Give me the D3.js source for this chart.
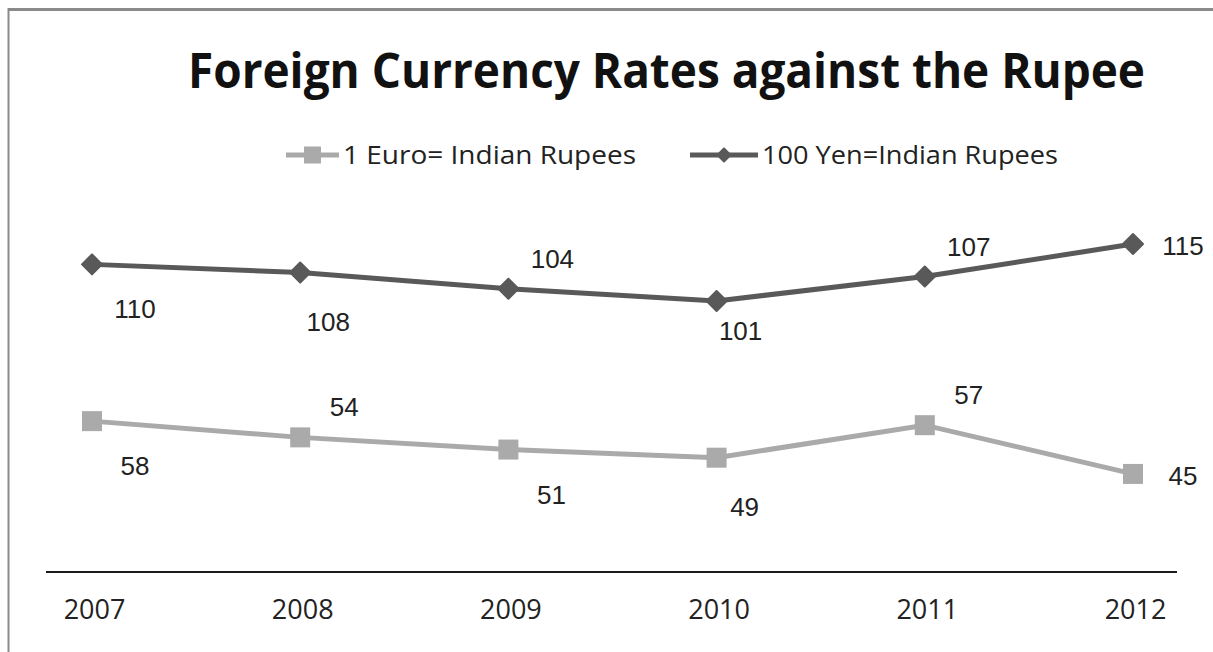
<!DOCTYPE html>
<html>
<head>
<meta charset="utf-8">
<script src="https://cdn.jsdelivr.net/npm/d3@7"></script>
<style>
  html, body { margin: 0; padding: 0; background: #fff; }
  svg { display: block; }
</style>
</head>
<body>
<div id="chart"></div>
<script>
// ── Data ───────────────────────────────────────────────────────────────────
const years = ["2007", "2008", "2009", "2010", "2011", "2012"];
const euroValues = [58, 54, 51, 49, 57, 45];
const yenValues  = [110, 108, 104, 101, 107, 115];
const seriesNames = ["1 Euro= Indian Rupees", "100 Yen=Indian Rupees"];
// where each data label sits relative to its point
const euroLabelPos = ["below", "above", "below", "belowLeft", "above", "right"];
const yenLabelPos  = ["below", "belowLeft", "above", "under", "above", "right"];

const W = 1213, H = 652;

const svg = d3.select("#chart").append("svg")
  .attr("width", W)
  .attr("height", H);

// frame (chart is cropped on the right and bottom)
svg.append("line").attr("x1", 8).attr("x2", W).attr("y1", 9.5).attr("y2", 9.5)
  .attr("stroke", "#8a8a8a").attr("stroke-width", 3);
svg.append("line").attr("x1", 8.5).attr("x2", 8.5).attr("y1", 8).attr("y2", H)
  .attr("stroke", "#8a8a8a").attr("stroke-width", 2);

// ── Title ──────────────────────────────────────────────────────────────────
svg.append("text")
  .attr("x", 188).attr("y", 88)
  .attr("textLength", 957)
  .attr("lengthAdjust", "spacingAndGlyphs")
  .style("font-family", "'Open Sans', sans-serif")
  .style("font-weight", "bold")
  .style("font-size", "49px")
  .style("fill", "#111")
  .text("Foreign Currency Rates against the Rupee");

// ── Scales ─────────────────────────────────────────────────────────────────
const x = d3.scalePoint().domain(years).range([92, 1133]);
// two value axes (hidden), same unit size
const yYen  = d3.scaleLinear().domain([100, 116]).range([305, 240]);
const yEuro = d3.scaleLinear().domain([44, 60]).range([478, 413]);

// ── X axis ─────────────────────────────────────────────────────────────────
const xAxis = svg.append("g")
  .attr("transform", "translate(0,572)")
  .call(d3.axisBottom(x).tickSize(0).tickPadding(28));
xAxis.select(".domain")
  .attr("d", "M46,0H1177")
  .attr("stroke", "#1a1a1a")
  .attr("stroke-width", 2);
xAxis.selectAll(".tick text")
  .attr("dx", 2)
  .style("font-family", "'Open Sans', sans-serif")
  .style("font-size", "27px")
  .style("fill", "#222");

// ── Series ─────────────────────────────────────────────────────────────────
const series = [
  { name: seriesNames[0], values: euroValues, y: yEuro, color: "#aaaaaa",
    marker: "square", pos: euroLabelPos },
  { name: seriesNames[1], values: yenValues,  y: yYen,  color: "#595959",
    marker: "diamond", pos: yenLabelPos },
];

const OFFSETS = {
  below:     { dx: 43, dy: 45 },
  belowLeft: { dx: 28, dy: 49 },
  under:     { dx: 24, dy: 30 },
  above:     { dx: 44, dy: -30 },
  right:     { dx: 50, dy: 2 },
};

function drawMarker(g, type, size, color) {
  if (type === "square") {
    g.append("rect")
      .attr("x", -size / 2).attr("y", -size / 2)
      .attr("width", size).attr("height", size)
      .attr("fill", color);
  } else {
    const s = size / 2;
    g.append("path")
      .attr("d", `M0,${-s}L${s},0L0,${s}L${-s},0Z`)
      .attr("fill", color)
      .attr("stroke", color)
      .attr("stroke-width", 2)
      .attr("stroke-linejoin", "round");
  }
}

series.forEach(s => {
  const pts = years.map((yr, i) => ({ year: yr, v: s.values[i], pos: s.pos[i] }));

  const line = d3.line().x(d => x(d.year)).y(d => s.y(d.v));
  svg.append("path")
    .datum(pts)
    .attr("d", line)
    .attr("fill", "none")
    .attr("stroke", s.color)
    .attr("stroke-width", 5);

  svg.selectAll(null)
    .data(pts)
    .enter().append("g")
    .attr("transform", d => `translate(${x(d.year)},${s.y(d.v)})`)
    .each(function () {
      drawMarker(d3.select(this), s.marker, 20, s.color);
    });

  svg.selectAll(null)
    .data(pts)
    .enter().append("text")
    .attr("x", d => x(d.year) + OFFSETS[d.pos].dx)
    .attr("y", d => s.y(d.v) + OFFSETS[d.pos].dy)
    .attr("dy", "0.35em")
    .attr("text-anchor", "middle")
    .style("font-family", "'Liberation Sans', sans-serif")
    .style("font-size", "26px")
    .style("fill", "#222")
    .text(d => d.v);
});

// ── Legend ─────────────────────────────────────────────────────────────────
const legendItems = [
  { s: series[0], x0: 286, textX: 343, textW: 293 },
  { s: series[1], x0: 690, textX: 762, textW: 296 },
];
legendItems.forEach(item => {
  const g = svg.append("g").attr("transform", "translate(0,155)");
  g.append("line")
    .attr("x1", item.x0).attr("x2", item.textX - 4)
    .attr("stroke", item.s.color).attr("stroke-width", 5);
  const m = g.append("g")
    .attr("transform", `translate(${(item.x0 + item.textX - 4) / 2},0)`);
  drawMarker(m, item.s.marker, item.s.marker === "square" ? 17 : 13, item.s.color);
  g.append("text")
    .attr("x", item.textX).attr("y", 0)
    .attr("dy", "0.36em")
    .attr("textLength", item.textW)
    .attr("lengthAdjust", "spacingAndGlyphs")
    .style("font-family", "'Open Sans', sans-serif")
    .style("font-size", "26px")
    .style("fill", "#222")
    .text(item.s.name);
});
</script>
</body>
</html>
